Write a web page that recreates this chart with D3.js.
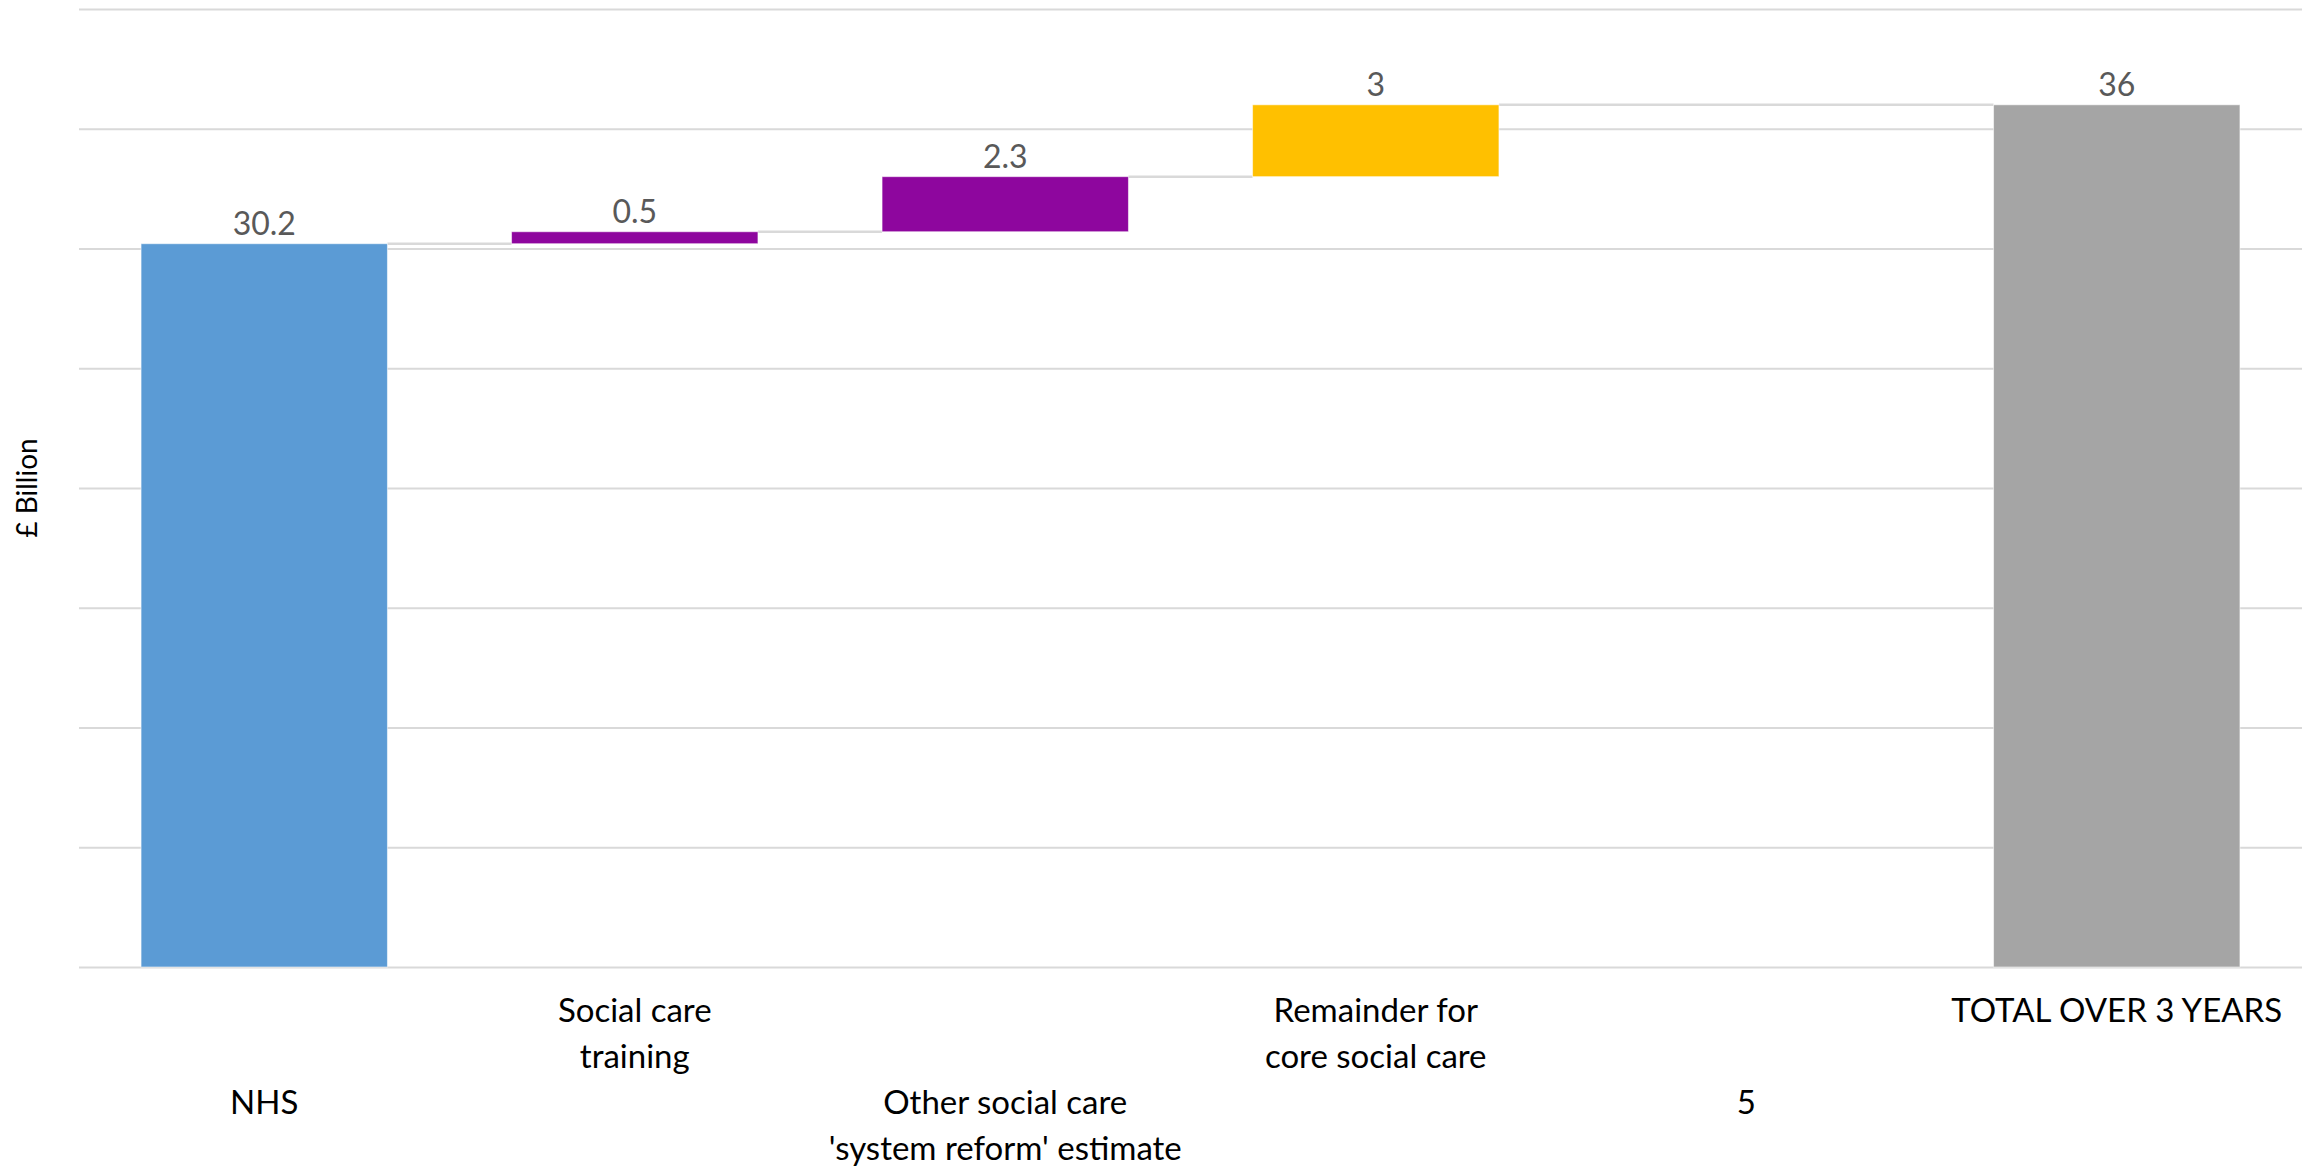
<!DOCTYPE html>
<html>
<head>
<meta charset="utf-8">
<script src="https://cdnjs.cloudflare.com/ajax/libs/d3/7.8.5/d3.min.js"></script>
<style>
  html, body { margin: 0; padding: 0; background: #ffffff; }
  svg { display: block; }
  text { font-family: Lato, "Open Sans", sans-serif; }
</style>
</head>
<body>
<svg id="chart" width="2316" height="1166"></svg>
<script>
// ---- Data ----
const categories = ["NHS", "Social care training", "Other social care 'system reform' estimate", "Remainder for core social care", "5", "TOTAL OVER 3 YEARS"];
const categoryLines = [["NHS"], ["Social care", "training"], ["Other social care", "'system reform' estimate"], ["Remainder for", "core social care"], ["5"], ["TOTAL OVER 3 YEARS"]];
const values = [30.2, 0.5, 2.3, 3, null, 36];
const kinds = ["total", "step", "step", "step", "blank", "total"];
const barColors = ["#5B9BD5", "#8E069E", "#8E069E", "#FFC000", "none", "#A5A5A5"];
const yTicks = [0, 5, 10, 15, 20, 25, 30, 35, 40];
const yTitle = "£ Billion";

// ---- Layout ----
const W = 2316, H = 1166;
const plot = { left: 79, right: 2302, top: 9, bottom: 967 };
const svg = d3.select("#chart");

const x = d3.scaleBand().domain(categories).range([plot.left, plot.right])
  .paddingInner(0.335).paddingOuter(0.1675);
const y = d3.scaleLinear().domain([0, 40]).range([plot.bottom, plot.top]);

// gridlines
const grid = svg.append("g").attr("class", "grid")
  .attr("transform", `translate(${plot.left},0)`)
  .call(d3.axisLeft(y).tickValues(yTicks).tickSize(-(plot.right - plot.left)).tickFormat(""));
grid.select(".domain").remove();
grid.selectAll(".tick line").attr("stroke", "#d9d9d9").attr("stroke-width", 2.2);

// compute waterfall spans
let running = 0;
const bars = categories.map((c, i) => {
  const v = values[i];
  let lo = null, hi = null;
  if (kinds[i] === "total") { lo = 0; hi = v; running = v; }
  else if (kinds[i] === "step") { lo = running; hi = running + v; running = hi; }
  return { c, i, v, lo, hi, kind: kinds[i], color: barColors[i] };
});
const drawn = bars.filter(b => b.kind !== "blank");

// connectors
const conn = [];
for (let k = 0; k < drawn.length - 1; k++) {
  const a = drawn[k], b = drawn[k + 1];
  conn.push({ x1: x(a.c) + x.bandwidth(), x2: x(b.c), level: a.hi });
}
svg.append("g").selectAll("line").data(conn).join("line")
  .attr("x1", d => d.x1).attr("x2", d => d.x2)
  .attr("y1", d => y(d.level)).attr("y2", d => y(d.level))
  .attr("stroke", "#d9d9d9").attr("stroke-width", 2.5);

// bars
svg.append("g").selectAll("rect").data(drawn).join("rect")
  .attr("x", d => x(d.c))
  .attr("width", x.bandwidth())
  .attr("y", d => y(d.hi))
  .attr("height", d => y(d.lo) - y(d.hi))
  .attr("fill", d => d.color)
  .attr("stroke", "rgba(255,255,255,0.55)")
  .attr("stroke-width", 1);

// value labels
svg.append("g").selectAll("text").data(drawn).join("text")
  .attr("x", d => x(d.c) + x.bandwidth() / 2)
  .attr("y", d => y(d.hi) - 9)
  .attr("text-anchor", "middle")
  .attr("fill", "#595959")
  .attr("font-size", 32)
  .text(d => d.v);

// category labels (staggered)
const catG = svg.append("g");
categories.forEach((c, i) => {
  const baseY = (i % 2 === 1) ? 1022 : 1114;
  const t = catG.append("text")
    .attr("x", x(c) + x.bandwidth() / 2)
    .attr("y", baseY)
    .attr("text-anchor", "middle")
    .attr("fill", "#000000")
    .attr("font-size", 33);
  categoryLines[i].forEach((ln, j) => {
    t.append("tspan").attr("x", x(c) + x.bandwidth() / 2).attr("y", baseY + j * 46).text(ln);
  });
});

// y title
svg.append("text")
  .attr("transform", `translate(37,488) rotate(-90)`)
  .attr("text-anchor", "middle")
  .attr("fill", "#000000")
  .attr("font-size", 28)
  .text(yTitle);
</script>
</body>
</html>
